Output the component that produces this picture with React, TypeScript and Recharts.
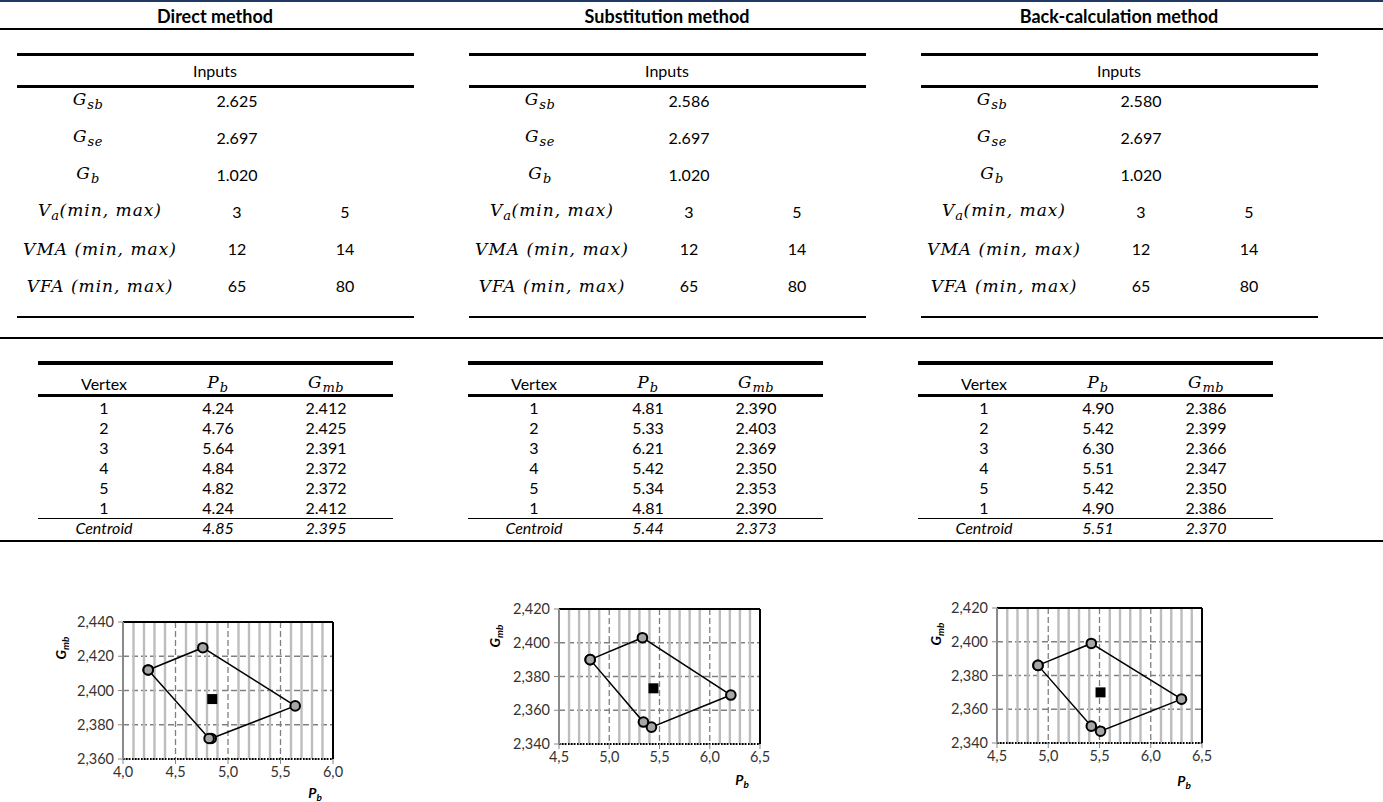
import React from 'react';
import { ScatterChart, Scatter, XAxis, YAxis, CartesianGrid, ReferenceLine } from 'recharts';

// ---------- data ----------
const methods = ['Direct method', 'Substitution method', 'Back-calculation method'];
const gsbValues = ['2.625', '2.586', '2.580'];
const gseValues = ['2.697', '2.697', '2.697'];
const gbValues = ['1.020', '1.020', '1.020'];
const vaRange = ['3', '5'];
const vmaRange = ['12', '14'];
const vfaRange = ['65', '80'];

const vertexIds = ['1', '2', '3', '4', '5', '1'];

const directPb = [4.24, 4.76, 5.64, 4.84, 4.82, 4.24];
const directGmb = [2.412, 2.425, 2.391, 2.372, 2.372, 2.412];
const directCentroid = [4.85, 2.395];

const substPb = [4.81, 5.33, 6.21, 5.42, 5.34, 4.81];
const substGmb = [2.39, 2.403, 2.369, 2.35, 2.353, 2.39];
const substCentroid = [5.44, 2.373];

const backPb = [4.9, 5.42, 6.3, 5.51, 5.42, 4.9];
const backGmb = [2.386, 2.399, 2.366, 2.347, 2.35, 2.386];
const backCentroid = [5.51, 2.37];

const directXTicks = [4.0, 4.5, 5.0, 5.5, 6.0];
const otherXTicks = [4.5, 5.0, 5.5, 6.0, 6.5];
const directYTicks = [2.36, 2.38, 2.4, 2.42, 2.44];
const otherYTicks = [2.34, 2.36, 2.38, 2.4, 2.42];
const directMinorX = [4.1, 4.2, 4.3, 4.4, 4.6, 4.7, 4.8, 4.9, 5.1, 5.2, 5.3, 5.4, 5.6, 5.7, 5.8, 5.9];
const otherMinorX = [4.6, 4.7, 4.8, 4.9, 5.1, 5.2, 5.3, 5.4, 5.6, 5.7, 5.8, 5.9, 6.1, 6.2, 6.3, 6.4];

const pbList = [directPb, substPb, backPb];
const gmbList = [directGmb, substGmb, backGmb];
const centroidList = [directCentroid, substCentroid, backCentroid];

// ---------- layout ----------
const BODY = "Lato, 'Open Sans', sans-serif";
const MATH = "'DejaVu Serif', serif";
const inputOffsets = [0, 452, 904];
const vertexOffsets = [0, 430, 880];

const fmt1 = (v: number) => v.toFixed(1).replace('.', ',');
const fmt3 = (v: number) => v.toFixed(3).replace('.', ',');

function T({ x, y, children, style }: any) {
  return (
    <div
      style={{
        position: 'absolute',
        left: x,
        top: y,
        transform: 'translate(-50%, -50%)',
        whiteSpace: 'nowrap',
        fontFamily: BODY,
        fontSize: 16,
        color: '#000',
        lineHeight: 1,
        ...style,
      }}
    >
      {children}
    </div>
  );
}

function HLine({ x1, x2, y, w, color }: any) {
  return (
    <div
      style={{
        position: 'absolute',
        left: x1,
        top: y - w / 2,
        width: x2 - x1,
        height: w,
        background: color || '#000',
      }}
    />
  );
}

function MathLabel({ base, sub, rest }: any) {
  return (
    <span style={{ fontFamily: MATH, fontStyle: 'italic', fontSize: 17, letterSpacing: 1 }}>
      {base}
      {sub ? <sub style={{ fontSize: 13, verticalAlign: '-0.35em', letterSpacing: 0.5 }}>{sub}</sub> : null}
      {rest}
    </span>
  );
}

const renderCircle = (p: any) => (
  <circle cx={p.cx} cy={p.cy} r={4.8} fill="#a6a6a6" stroke="#000" strokeWidth={2} />
);
const renderSquare = (p: any) => (
  <rect x={p.cx - 5} y={p.cy - 5} width={10} height={10} fill="#000" />
);

function PolyChart({ pb, gmb, centroid, xTicks, yTicks, minor, plotLeft, plotTop, plotW, plotH }: any) {
  const poly = pb.map((x: number, i: number) => ({ x, y: gmb[i] }));
  const cent = [{ x: centroid[0], y: centroid[1] }];
  const ml = 20, yw = 60, mt = 20, mr = 20, xh = 30, mb = 15;
  const width = plotW + ml + yw + mr;
  const height = plotH + mt + xh + mb;
  const xMin = xTicks[0], xMax = xTicks[xTicks.length - 1];
  const yMin = yTicks[0], yMax = yTicks[yTicks.length - 1];
  return (
    <div style={{ position: 'absolute', left: plotLeft - ml - yw, top: plotTop - mt }}>
      <ScatterChart width={width} height={height} margin={{ top: mt, right: mr, bottom: mb, left: ml }}>
        {minor.map((v: number) => (
          <ReferenceLine key={v} x={v} stroke="#bdbdbd" strokeWidth={2.4} />
        ))}
        <CartesianGrid stroke="#808080" strokeDasharray="6 3" strokeWidth={1.3} />
        <XAxis
          type="number"
          dataKey="x"
          domain={[xMin, xMax]}
          ticks={xTicks}
          tickFormatter={fmt1}
          height={xh}
          axisLine={{ stroke: '#000', strokeDasharray: '1.5 1.5', strokeWidth: 2 }}
          tickLine={{ stroke: '#888' }}
          tickSize={5}
          tickMargin={3}
          tick={{ fontSize: 14.5, fill: '#333', fontFamily: BODY }}
          allowDataOverflow
        />
        <YAxis
          type="number"
          dataKey="y"
          domain={[yMin, yMax]}
          ticks={yTicks}
          tickFormatter={fmt3}
          width={yw}
          axisLine={{ stroke: '#8a8a8a', strokeWidth: 2 }}
          tickLine={{ stroke: '#888' }}
          tickSize={5}
          tickMargin={4}
          tick={{ fontSize: 14.5, fill: '#333', fontFamily: BODY }}
          allowDataOverflow
        />
        <ReferenceLine y={yMax} stroke="#000" strokeWidth={2} />
        <ReferenceLine x={xMax} stroke="#000" strokeWidth={2} />
        <Scatter data={poly} line={{ stroke: '#000', strokeWidth: 1.5 }} shape={renderCircle} isAnimationActive={false} />
        <Scatter data={cent} shape={renderSquare} isAnimationActive={false} />
      </ScatterChart>
    </div>
  );
}

const chartGeom = [
  { plotLeft: 123, plotTop: 622, plotW: 210, plotH: 137, xt: [62, 648], pt: [315, 794] },
  { plotLeft: 559, plotTop: 609, plotW: 201, plotH: 135, xt: [496, 636], pt: [742, 781] },
  { plotLeft: 997, plotTop: 608, plotW: 205, plotH: 135, xt: [937, 634], pt: [1184, 782] },
];

const labelX = [88, 88, 88, 100, 100, 100];

export default function App() {
  const inputRows = [
    { label: { base: 'G', sub: 'sb', rest: '' }, v: (m: number) => [gsbValues[m], ''] },
    { label: { base: 'G', sub: 'se', rest: '' }, v: (m: number) => [gseValues[m], ''] },
    { label: { base: 'G', sub: 'b', rest: '' }, v: (m: number) => [gbValues[m], ''] },
    { label: { base: 'V', sub: 'a', rest: '(min, max)' }, v: () => vaRange },
    { label: { base: 'VMA', sub: '', rest: ' (min, max)' }, v: () => vmaRange },
    { label: { base: 'VFA', sub: '', rest: ' (min, max)' }, v: () => vfaRange },
  ];
  const inputRowY = [101, 138, 175, 212, 249, 286];
  const vertexRowY = [408, 428, 448, 468, 488, 508];

  return (
    <div style={{ position: 'absolute', left: 0, top: 0, width: 1383, height: 802, background: '#fff', overflow: 'hidden' }}>
      <HLine x1={0} x2={1383} y={1} w={2} color="#1f3864" />
      <HLine x1={0} x2={1383} y={29} w={2} />
      <HLine x1={0} x2={1383} y={338} w={2} />
      <HLine x1={0} x2={1383} y={541} w={2} />

      {methods.map((m, mi) => {
        const o = inputOffsets[mi];
        const vo = vertexOffsets[mi];
        const pb = pbList[mi];
        const gmb = gmbList[mi];
        const c = centroidList[mi];
        return (
          <React.Fragment key={m}>
            <T x={215 + o} y={16} style={{ fontWeight: 700, fontSize: 18 }}>{m}</T>

            <HLine x1={17 + o} x2={414 + o} y={54} w={3} />
            <T x={215 + o} y={71}>Inputs</T>
            <HLine x1={17 + o} x2={414 + o} y={86} w={3} />
            {inputRows.map((r, ri) => {
              const vals = r.v(mi);
              return (
                <React.Fragment key={ri}>
                  <T x={labelX[ri] + o} y={inputRowY[ri]}><MathLabel {...r.label} /></T>
                  <T x={237 + o} y={inputRowY[ri]}>{vals[0]}</T>
                  {vals[1] ? <T x={345 + o} y={inputRowY[ri]}>{vals[1]}</T> : null}
                </React.Fragment>
              );
            })}
            <HLine x1={17 + o} x2={414 + o} y={317} w={2} />

            <HLine x1={38 + vo} x2={393 + vo} y={363} w={3.5} />
            <T x={104 + vo} y={384}>Vertex</T>
            <T x={218 + vo} y={384}><MathLabel base="P" sub="b" rest="" /></T>
            <T x={326 + vo} y={384}><MathLabel base="G" sub="mb" rest="" /></T>
            <HLine x1={38 + vo} x2={393 + vo} y={395} w={3} />
            {vertexIds.map((id, i) => (
              <React.Fragment key={i}>
                <T x={104 + vo} y={vertexRowY[i]}>{id}</T>
                <T x={218 + vo} y={vertexRowY[i]}>{pb[i].toFixed(2)}</T>
                <T x={326 + vo} y={vertexRowY[i]}>{gmb[i].toFixed(3)}</T>
              </React.Fragment>
            ))}
            <HLine x1={38 + vo} x2={393 + vo} y={518} w={1} />
            <T x={104 + vo} y={528} style={{ fontStyle: 'italic' }}>Centroid</T>
            <T x={218 + vo} y={528} style={{ fontStyle: 'italic' }}>{c[0].toFixed(2)}</T>
            <T x={326 + vo} y={528} style={{ fontStyle: 'italic' }}>{c[1].toFixed(3)}</T>

            <PolyChart
              pb={pb}
              gmb={gmb}
              centroid={c}
              xTicks={mi === 0 ? directXTicks : otherXTicks}
              yTicks={mi === 0 ? directYTicks : otherYTicks}
              minor={mi === 0 ? directMinorX : otherMinorX}
              plotLeft={chartGeom[mi].plotLeft}
              plotTop={chartGeom[mi].plotTop}
              plotW={chartGeom[mi].plotW}
              plotH={chartGeom[mi].plotH}
            />
            <T
              x={chartGeom[mi].xt[0]}
              y={chartGeom[mi].xt[1]}
              style={{ transform: 'translate(-50%, -50%) rotate(-90deg)', fontWeight: 700, fontStyle: 'italic', fontSize: 14 }}
            >
              G<sub style={{ fontSize: 10, verticalAlign: '-0.3em' }}>mb</sub>
            </T>
            <T
              x={chartGeom[mi].pt[0]}
              y={chartGeom[mi].pt[1]}
              style={{ fontWeight: 700, fontStyle: 'italic', fontSize: 14 }}
            >
              P<sub style={{ fontSize: 10, verticalAlign: '-0.3em' }}>b</sub>
            </T>
          </React.Fragment>
        );
      })}
    </div>
  );
}
